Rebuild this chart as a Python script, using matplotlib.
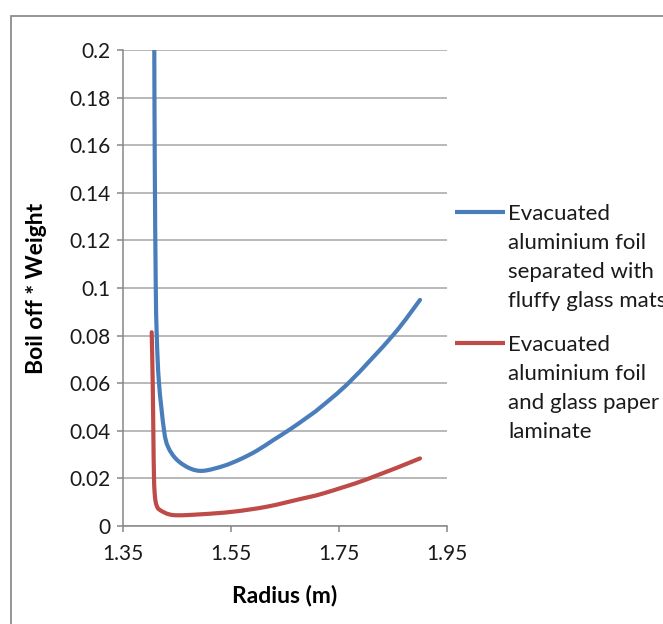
import matplotlib
matplotlib.use("Agg")
import matplotlib.pyplot as plt
from matplotlib.lines import Line2D
from matplotlib.patches import Rectangle, PathPatch
from matplotlib.path import Path

plt.rcParams['font.family'] = ['Lato', 'DejaVu Sans']

# Boil off * weight versus tank radius for two insulation systems
radius_mats = [1.4085, 1.4094, 1.4111, 1.4130, 1.4172, 1.4265, 1.4339, 1.4500,
               1.4746, 1.4993, 1.5363, 1.5672, 1.5981, 1.6289, 1.6598, 1.6907,
               1.7154, 1.7709, 1.8511, 1.9006]
boiloff_mats = [0.2000, 0.1517, 0.1034, 0.0803, 0.0601, 0.0403, 0.0333, 0.0279,
                0.0242, 0.0232, 0.0252, 0.0280, 0.0316, 0.0361, 0.0406, 0.0455,
                0.0497, 0.0607, 0.0803, 0.0950]

radius_paper = [1.4037, 1.4056, 1.4067, 1.4080, 1.4098, 1.4126, 1.4191, 1.4431,
                1.4931, 1.5543, 1.6167, 1.6783, 1.7215, 1.8019, 1.9006]
boiloff_paper = [0.0814, 0.0601, 0.0403, 0.0197, 0.0123, 0.0088, 0.0067, 0.0046,
                 0.0049, 0.0060, 0.0081, 0.0113, 0.0137, 0.0196, 0.0284]

series_names = ["Evacuated\naluminium foil\nseparated with\nfluffy glass mats",
                "Evacuated\naluminium foil\nand glass paper\nlaminate"]
series_colors = ["#4A7EBB", "#BE4B48"]

x_ticks = [1.35, 1.55, 1.75, 1.95]
x_tick_labels = ["1.35", "1.55", "1.75", "1.95"]
y_ticks = [0, 0.02, 0.04, 0.06, 0.08, 0.1, 0.12, 0.14, 0.16, 0.18, 0.2]
y_tick_labels = ["0", "0.02", "0.04", "0.06", "0.08", "0.1", "0.12", "0.14",
                 "0.16", "0.18", "0.2"]


def smooth_path(xs, ys):
    """Smoothed line through the points (Catmull-Rom as cubic Beziers)."""
    pts = list(zip(xs, ys))
    verts = [pts[0]]
    codes = [Path.MOVETO]
    n = len(pts)
    for i in range(n - 1):
        p0 = pts[i - 1] if i > 0 else pts[i]
        p1 = pts[i]
        p2 = pts[i + 1]
        p3 = pts[i + 2] if i + 2 < n else pts[i + 1]
        c1 = (p1[0] + (p2[0] - p0[0]) / 6, p1[1] + (p2[1] - p0[1]) / 6)
        c2 = (p2[0] - (p3[0] - p1[0]) / 6, p2[1] - (p3[1] - p1[1]) / 6)
        verts += [c1, c2, p2]
        codes += [Path.CURVE4] * 3
    return Path(verts, codes)


W, H = 663, 624
fig = plt.figure(figsize=(W / 100, H / 100), dpi=100)

# chart border (runs off the right and bottom edges)
fig.add_artist(Rectangle((11 / W, -0.05), 1.1, 1 - 16 / H + 0.05,
                         transform=fig.transFigure, fill=False,
                         edgecolor="#8c8c8c", linewidth=1.3))

ax = fig.add_axes([122.7 / W, 1 - 526 / H, 324 / W, 476 / H])
for xs, ys, color in ((radius_mats, boiloff_mats, series_colors[0]),
                      (radius_paper, boiloff_paper, series_colors[1])):
    patch = PathPatch(smooth_path(xs, ys), facecolor="none", edgecolor=color,
                      linewidth=3.0, capstyle="round", joinstyle="round",
                      zorder=3)
    ax.add_patch(patch)

ax.set_xlim(1.35, 1.95)
ax.set_ylim(0, 0.2)
ax.set_xticks(x_ticks)
ax.set_xticklabels(x_tick_labels)
ax.set_yticks(y_ticks)
ax.set_yticklabels(y_tick_labels)
ax.yaxis.grid(True, color="#a6a6a6", linewidth=1.1)
ax.set_axisbelow(True)
for side in ("top", "right"):
    ax.spines[side].set_visible(False)
for side in ("left", "bottom"):
    ax.spines[side].set_color("#868686")
    ax.spines[side].set_linewidth(1.1)
ax.tick_params(axis="both", direction="out", length=4, width=1.1,
               color="#868686", labelsize=15, labelcolor="#1a1a1a")
ax.tick_params(axis="y", pad=5)
ax.tick_params(axis="x", pad=9)

ax.set_xlabel("Radius (m)", fontsize=16.5, fontweight="bold")
ax.set_ylabel("Boil off * Weight", fontsize=16.5, fontweight="bold")
ax.xaxis.set_label_coords((285 - 122.7) / 324, (526 - 596) / 476)
ax.xaxis.label.set_va("center")
ax.yaxis.set_label_coords((37 - 122.7) / 324, (526 - 288) / 476)
ax.yaxis.label.set_va("center")

# legend entries to the right of the plot
legend_rows = [212, 343]
for name, color, yrow in zip(series_names, series_colors, legend_rows):
    fig.add_artist(Line2D([455 / W, 505 / W], [1 - yrow / H, 1 - yrow / H],
                          transform=fig.transFigure, color=color,
                          linewidth=3.0, solid_capstyle="butt"))
    for i, line in enumerate(name.split("\n")):
        fig.text(508 / W, 1 - (yrow + 8 + i * 29) / H, line, fontsize=16,
                 va="baseline", ha="left", color="#1a1a1a")

fig.savefig("out.png", dpi=100)
